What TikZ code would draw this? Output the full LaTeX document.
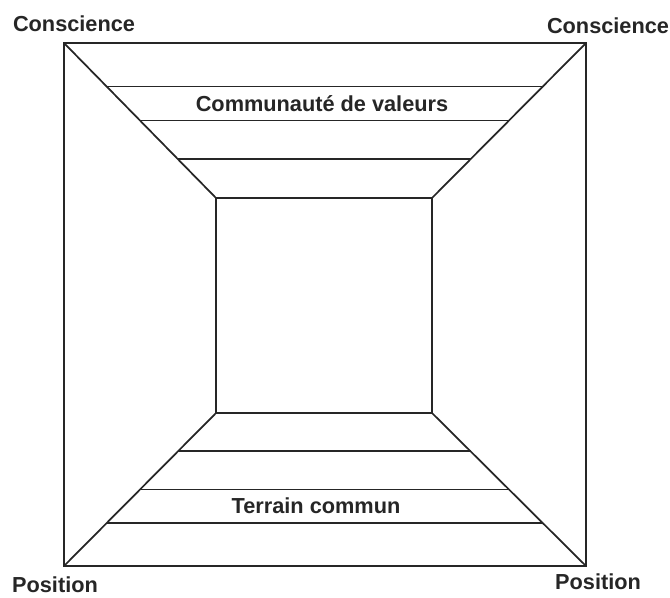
\documentclass[tikz,border=0pt]{standalone}
\usepackage{fontspec}
\setmainfont{Liberation Sans}
\usetikzlibrary{calc}
\begin{document}
\begin{tikzpicture}
[x=0.75pt,y=-0.75pt,
  linedecorate/.style={-,line width=1.3pt,color=black!85},%
  labeldecorate/.style={font=\fontsize{16.3}{19}\selectfont\bfseries,text=black!85,inner sep=0pt}]
\useasboundingbox (0,0) rectangle (670,597);
%% corners of the two squares
\foreach \nodename/\x/\y in {
  otl/64/43, otr/586/43, obl/64/566, obr/586/566,
  itl/216/198, itr/432/198, ibl/216/413, ibr/432/413}
{
  \coordinate (\nodename) at (\x,\y);
}
%% squares and diagonals
\draw[linedecorate] (otl) -- (otr) -- (obr) -- (obl) -- cycle;
\draw[linedecorate] (itl) -- (itr) -- (ibr) -- (ibl) -- cycle;
\path
\foreach \startnode/\endnode in {otl/itl, otr/itr, obl/ibl, obr/ibr} {
  (\startnode) edge[linedecorate] (\endnode)
};
%% rungs
\foreach \i/\t in {1/0.28, 2/0.5, 3/0.75}
{
  \coordinate (tl\i) at ($(otl)!\t!(itl)$);
  \coordinate (tr\i) at ($(otr)!\t!(itr)$);
  \coordinate (bl\i) at ($(obl)!\t!(ibl)$);
  \coordinate (br\i) at ($(obr)!\t!(ibr)$);
  \draw[linedecorate] (tl\i) -- (tr\i);
  \draw[linedecorate] (bl\i) -- (br\i);
}
%% labels
\node (valeurs) at (322,104) [labeldecorate] {Communauté de valeurs};
\node (terrain) at (316,506) [labeldecorate] {Terrain commun};
\node (cons1) at (74,24) [labeldecorate] {Conscience};
\node (cons2) at (608,26) [labeldecorate] {Conscience};
\node (pos1) at (55,585) [labeldecorate] {Position};
\node (pos2) at (598,582) [labeldecorate] {Position};
\end{tikzpicture}
\end{document}
